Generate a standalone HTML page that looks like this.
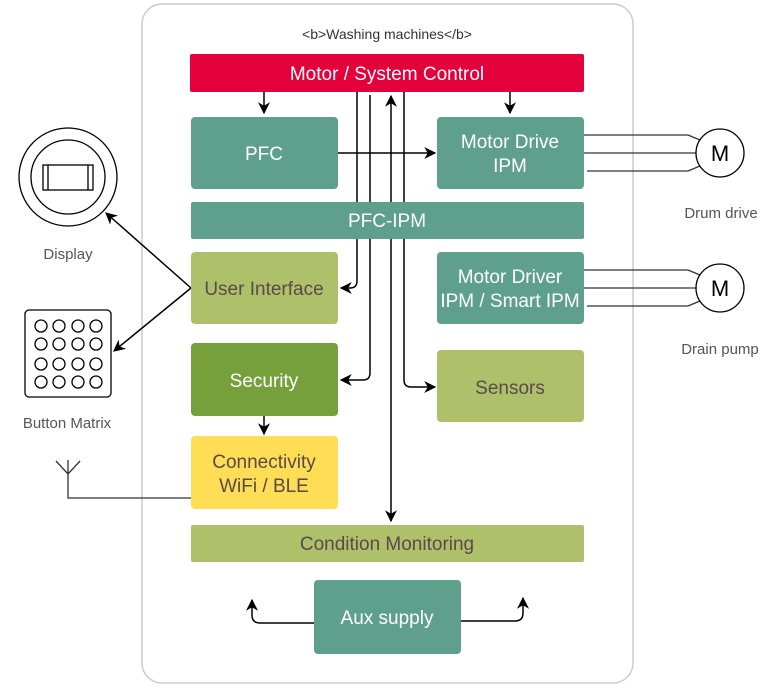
<!DOCTYPE html>
<html><head><meta charset="utf-8"><style>body{margin:0;background:#fff}svg{display:block}text{font-family:"Liberation Sans",sans-serif}</style></head><body>
<svg width="769" height="689" viewBox="0 0 769 689" xmlns="http://www.w3.org/2000/svg">
<defs><marker id="a" viewBox="0 0 10 10" refX="9" refY="5" markerWidth="8" markerHeight="8" orient="auto-start-reverse"><path d="M0,0 L10,5 L0,10 L3,5 z" fill="#000"/></marker></defs>
<rect x="142" y="4" width="491" height="679" rx="20" fill="#fff" stroke="#ccc" stroke-width="1.5"/>
<text x="387" y="39" font-size="14" fill="#333" text-anchor="middle">&lt;b&gt;Washing machines&lt;/b&gt;</text>
<rect x="190" y="54" width="394" height="38" rx="2" fill="#e4003a"/>
<text x="387" y="80" font-size="19" fill="#fff" text-anchor="middle">Motor / System Control</text>
<g fill="none" stroke="#000" stroke-width="1.5">
<path d="M264,92 V113" marker-end="url(#a)"/>
<path d="M510,92 V113" marker-end="url(#a)"/>
<path d="M338,153 H435" marker-end="url(#a)"/>
<path d="M357,92 V281 Q357,288 350,288 H341" marker-end="url(#a)"/>
<path d="M370,95 V373 Q370,380 363,380 H341" marker-end="url(#a)"/>
<path d="M391,96 V521" marker-start="url(#a)" marker-end="url(#a)"/>
<path d="M404,92 V380 Q404,387 411,387 H435" marker-end="url(#a)"/>
<path d="M264,416 V434" marker-end="url(#a)"/>
<path d="M191,288 L106,213" marker-end="url(#a)"/>
<path d="M191,288 L114,351" marker-end="url(#a)"/>
<path d="M314,623 H260 Q252,623 252,615 V600" marker-end="url(#a)"/>
<path d="M461,621 H515 Q523,621 523,613 V598" marker-end="url(#a)"/>
</g>
<g font-size="19" text-anchor="middle">
<rect x="191" y="117" width="147" height="72" rx="4" fill="#5fa08d"/><text x="264" y="160" fill="#fff">PFC</text>
<rect x="437" y="117" width="147" height="72" rx="4" fill="#5fa08d"/><text x="510" y="148" fill="#fff">Motor Drive</text><text x="510" y="172" fill="#fff">IPM</text>
<rect x="191" y="202" width="393" height="37" rx="2" fill="#5fa08d"/><text x="387" y="227" fill="#fff">PFC-IPM</text>
<rect x="191" y="252" width="147" height="72" rx="4" fill="#afc06a"/><text x="264" y="295" fill="#5a4a4a">User Interface</text>
<rect x="437" y="252" width="147" height="72" rx="4" fill="#5fa08d"/><text x="510" y="283" fill="#fff">Motor Driver</text><text x="510" y="307" fill="#fff">IPM / Smart IPM</text>
<rect x="191" y="343" width="147" height="73" rx="4" fill="#76a03c"/><text x="264" y="387" fill="#fff">Security</text>
<rect x="437" y="350" width="147" height="72" rx="4" fill="#afc06a"/><text x="510" y="394" fill="#5a4a4a">Sensors</text>
<rect x="191" y="436" width="147" height="73" rx="4" fill="#ffdd55"/><text x="264" y="468" fill="#5a4a4a">Connectivity</text><text x="264" y="492" fill="#5a4a4a">WiFi / BLE</text>
<rect x="191" y="525" width="393" height="37" rx="2" fill="#afc06a"/><text x="387" y="550" fill="#5a4a4a">Condition Monitoring</text>
<rect x="314" y="580" width="147" height="74" rx="4" fill="#5fa08d"/><text x="387" y="624" fill="#fff">Aux supply</text>
</g>
<g fill="none" stroke="#333" stroke-width="1.3">
<path d="M584,135 H688 L700,140 M584,153 H696 M587,171 H688 L700,166"/>
<path d="M584,270 H688 L700,275 M584,288 H696 M587,306 H688 L700,301"/>
<path d="M68,460 V498 H191 M56,461 L68,474 L80,461"/>
</g>
<circle cx="720" cy="153" r="24" fill="#fff" stroke="#000" stroke-width="1.3"/>
<circle cx="720" cy="288" r="24" fill="#fff" stroke="#000" stroke-width="1.3"/>
<text x="720" y="161" font-size="22" text-anchor="middle" fill="#000">M</text>
<text x="720" y="296" font-size="22" text-anchor="middle" fill="#000">M</text>
<text x="721" y="218" font-size="15" fill="#555" text-anchor="middle">Drum drive</text>
<text x="720" y="354" font-size="15" fill="#555" text-anchor="middle">Drain pump</text>
<circle cx="68" cy="177" r="49" fill="#fff" stroke="#000" stroke-width="1.3"/>
<circle cx="68" cy="177" r="37" fill="#fff" stroke="#000" stroke-width="1.3"/>
<rect x="43" y="165" width="50" height="25" fill="#fff" stroke="#000" stroke-width="1.3"/>
<path d="M48,165 V190 M88,165 V190" stroke="#000" stroke-width="1.3"/>
<text x="68" y="259" font-size="15" fill="#555" text-anchor="middle">Display</text>
<rect x="25" y="310" width="86" height="87" rx="4" fill="#fff" stroke="#000" stroke-width="1.3"/>
<g fill="#fff" stroke="#000" stroke-width="1.3">
<circle cx="41" cy="326" r="6"/><circle cx="59" cy="326" r="6"/><circle cx="78" cy="326" r="6"/><circle cx="96" cy="326" r="6"/>
<circle cx="41" cy="344" r="6"/><circle cx="59" cy="344" r="6"/><circle cx="78" cy="344" r="6"/><circle cx="96" cy="344" r="6"/>
<circle cx="41" cy="364" r="6"/><circle cx="59" cy="364" r="6"/><circle cx="78" cy="364" r="6"/><circle cx="96" cy="364" r="6"/>
<circle cx="41" cy="382" r="6"/><circle cx="59" cy="382" r="6"/><circle cx="78" cy="382" r="6"/><circle cx="96" cy="382" r="6"/>
</g>
<text x="67" y="428" font-size="15" fill="#555" text-anchor="middle">Button Matrix</text>
</svg>
</body></html>
